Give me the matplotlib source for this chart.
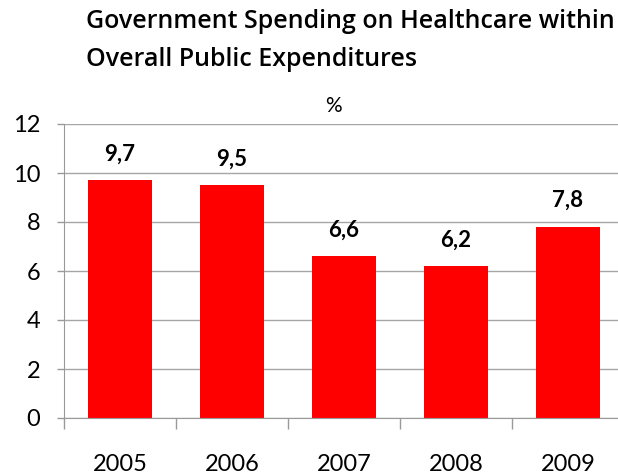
import numpy as np
import matplotlib
matplotlib.use("Agg")
import matplotlib.pyplot as plt

# data
years = ['2005', '2006', '2007', '2008', '2009']
spending = [9.7, 9.5, 6.6, 6.2, 7.8]
bar_labels = ['9,7', '9,5', '6,6', '6,2', '7,8']

plt.rcParams['font.family'] = ['Lato', 'DejaVu Sans']

fig = plt.figure(figsize=(6.18, 4.74), dpi=100)
ax = fig.add_axes([64/618, 56/474, 560/618, 294/474])

x = np.arange(len(years))
bars = ax.bar(x, spending, width=0.58, color='#ff0000', zorder=3)
for b, lab in zip(bars, bar_labels):
    ax.annotate(lab, (b.get_x() + b.get_width()/2, b.get_height()),
                xytext=(0, 19), textcoords='offset points',
                ha='center', va='center', fontsize=16, fontweight='bold')

ax.set_xlim(-0.5, 4.5)
ax.set_ylim(0, 12)
ax.set_yticks(range(0, 13, 2))
ax.set_xticks(x)
ax.set_xticklabels(years)
ax.set_xticks(np.arange(-0.5, 5, 1), minor=True)
ax.tick_params(axis='x', which='major', length=0, pad=26, labelsize=17)
ax.tick_params(axis='x', which='minor', length=8, color='#999999', width=1)
ax.tick_params(axis='y', length=5, color='#999999', width=1, pad=12, labelsize=17)

ax.grid(axis='y', color='#a6a6a6', lw=1, zorder=0)
for s in ['top', 'right']:
    ax.spines[s].set_visible(False)
for s in ['left', 'bottom']:
    ax.spines[s].set_color('#999999')
    ax.spines[s].set_zorder(4)

title_font = dict(family=['Open Sans', 'DejaVu Sans'], fontsize=18,
                  fontweight='semibold', ha='left', va='center')
fig.text(86/618, 1 - 22/474, 'Government Spending on Healthcare within', **title_font)
fig.text(86/618, 1 - 60/474, 'Overall Public Expenditures', **title_font)
fig.text(333/618, 1 - 106/474, '%', fontsize=15, ha='center', va='center')

fig.savefig('out.png', dpi=100)
